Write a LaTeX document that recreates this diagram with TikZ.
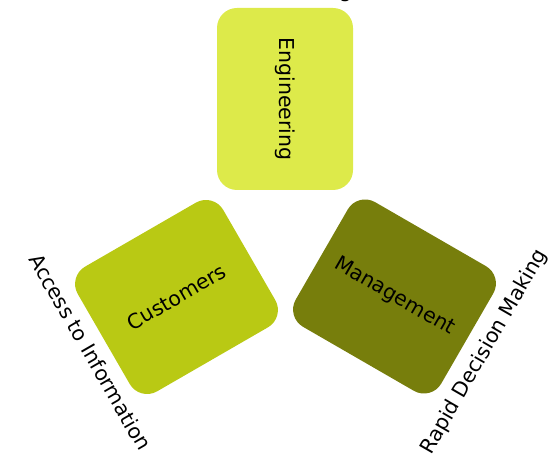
\documentclass[tikz,border=0pt]{standalone}
\usepackage{fontspec}
\setmainfont{DejaVu Sans}
\usetikzlibrary{positioning}

\begin{document}
\begin{tikzpicture}[x=1bp,y=1bp,
    block/.style={rounded corners=20bp,inner sep=0pt,align=center,font=\fontsize{20.5bp}{24bp}\selectfont},
    sidetext/.style={inner sep=0pt,font=\fontsize{20.5bp}{24bp}\selectfont}]
		    \definecolor{engcol}{RGB}{221,234,74}
		    \definecolor{custcol}{RGB}{185,201,20}
		    \definecolor{mgmtcol}{RGB}{119,126,12}
		    \useasboundingbox (0,0) rectangle (548,456);
		    % the three boxes
		    \node(engineering) [block,fill=engcol,minimum width=182bp,minimum height=136bp,rotate=-90] at (285,357) {Engineering};
		    \node(customers) [block,fill=custcol,minimum width=168bp,minimum height=144bp,rotate=30] at (176.5,159) {Customers};
		    \node(management) [block,fill=mgmtcol,minimum width=168bp,minimum height=144bp,rotate=-30] at (394.5,159.5) {Management};
		    
		    % texts outside
		    \node(toptext) [sidetext,anchor=base] at (285,458) {Data Sharing};
		    \node(infotext) [sidetext,rotate=-60] at (90.5,104) {Access to Information};
		    \node(decisiontext) [sidetext,rotate=60] at (484.5,104) {Rapid Decision Making};
\end{tikzpicture}
\end{document}
